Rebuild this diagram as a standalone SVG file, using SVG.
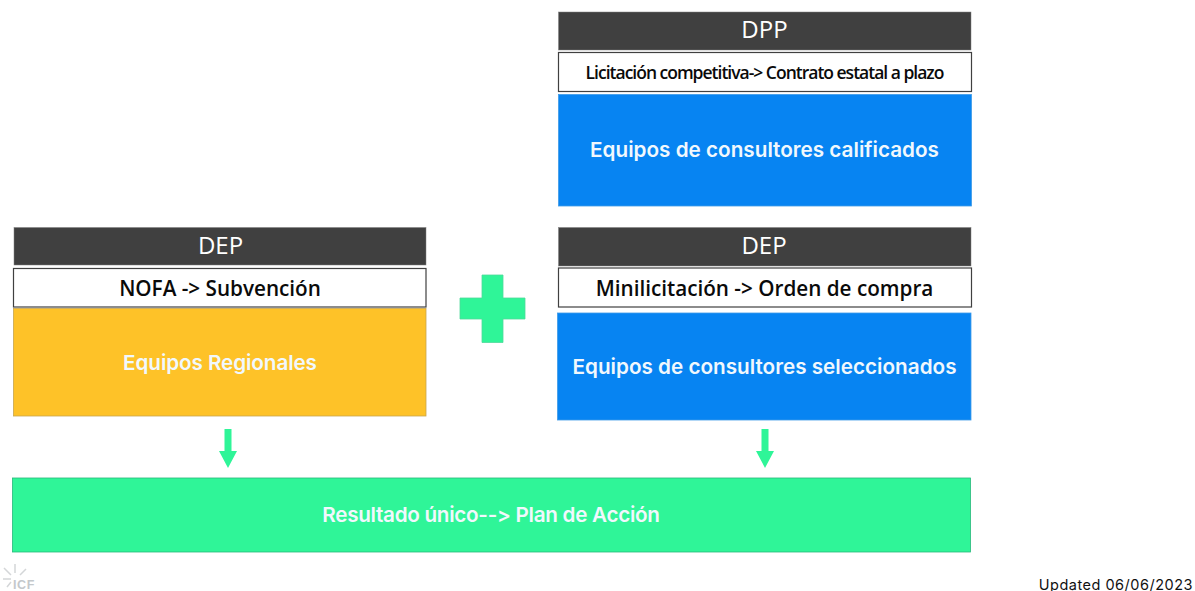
<svg xmlns="http://www.w3.org/2000/svg" width="1195" height="591" viewBox="0 0 1195 591">
<style>
.hd{fill:#404040;stroke:#7f7f7f;stroke-width:.5}
.sub{fill:#fff;stroke:#404040;stroke-width:1.2}
.blue{fill:#0784f2;stroke:#3f9be8;stroke-width:.8}
.gold{fill:#fec228;stroke:#c8a64e;stroke-width:.8}
.grn{fill:#2ff598;stroke:#27b87a;stroke-width:.8}
.ht{font:400 24px "Open Sans",sans-serif;fill:#fff;text-anchor:middle}
.st{font:600 20.700px "Open Sans",sans-serif;fill:#0a0a0a;text-anchor:middle}
.bt{font:600 20.700px Inter,sans-serif;fill:#f1f8fd;text-anchor:middle;font-feature-settings:"calt" 0,"liga" 0}
</style>
<rect width="1195" height="591" fill="#fff"/>
<g id="dpp">
<rect class="hd" x="558.5" y="12" width="412.5" height="38"/><text class="ht" x="764.5" y="38">DPP</text>
<rect class="sub" x="558.5" y="52.5" width="413" height="39"/><text class="st" x="764.500" y="79" style="font-size:17.5px;letter-spacing:-1px">Licitación competitiva-&gt; Contrato estatal a plazo</text>
<rect class="blue" x="558.5" y="94.5" width="413" height="111.500"/><text class="bt" x="764.500" y="157">Equipos de consultores calificados</text>
</g>
<g id="dep-left">
<rect class="hd" x="14" y="227.500" width="412" height="37.500"/><text class="ht" x="220.500" y="254">DEP</text>
<rect class="sub" x="13.500" y="268.500" width="412.500" height="38.500"/><text class="st" x="220" y="296">NOFA -&gt; Subvención</text>
<rect class="gold" x="13.500" y="308.500" width="412.500" height="107.500"/><text class="bt" x="220" y="369.500" style="letter-spacing:-.1px">Equipos Regionales</text>
</g>
<g id="dep-right">
<rect class="hd" x="558.500" y="227.500" width="412.500" height="38.500"/><text class="ht" x="764" y="254">DEP</text>
<rect class="sub" x="558.500" y="268" width="413" height="39"/><text class="st" x="764.500" y="295.500">Minilicitación -&gt; Orden de compra</text>
<rect class="blue" x="557.500" y="313" width="413.500" height="107"/><text class="bt" x="764.500" y="374">Equipos de consultores seleccionados</text>
</g>
<g id="plus"><path class="grn" style="stroke:#4fd99a" d="M482 275H503V298H525V319H503V342.500H482V319H460V298H482Z"/></g>
<g id="connectors" fill="#2ff598">
<path d="M224.500 429H231.500V451H237L228 468L219 451H224.500Z"/>
<path d="M761.500 429H768.500V451H774L765 468L756 451H761.500Z"/>
</g>
<g id="result">
<rect class="grn" x="12.500" y="478" width="958" height="74"/><text class="bt" x="491" y="521.500" style="letter-spacing:-.3px">Resultado único--&gt; Plan de Acción</text>
</g>
<g id="logo" fill="none" stroke="#d4d6d8" stroke-width="1.500">
<path d="M15 564V573M4 568L11 575M26 569L20 575M3 579H11M7 587L11 582"/>
<text x="13" y="589" style="font:800 12.500px 'Liberation Sans',sans-serif;letter-spacing:.6px" fill="#c4c8cb" stroke="none">ICF</text>
</g>
<text id="updated" x="1193" y="589.500" text-anchor="end" style="font:400 14.500px Inter,sans-serif;letter-spacing:.5px" fill="#111">Updated 06/06/2023</text>
</svg>
